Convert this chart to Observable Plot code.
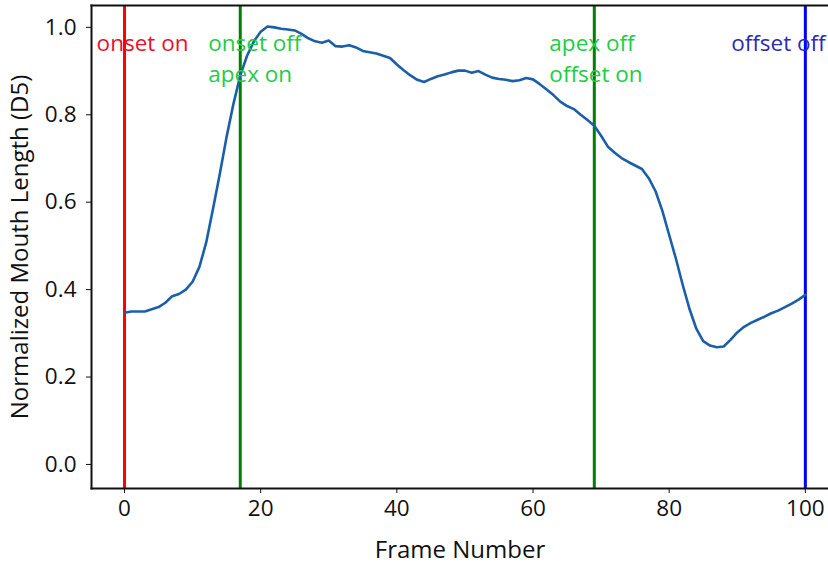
<!DOCTYPE html>
<html>
<head>
<meta charset="utf-8">
<script src="https://cdn.jsdelivr.net/npm/d3@7"></script>
<script src="https://cdn.jsdelivr.net/npm/@observablehq/plot@0.6"></script>
<style>
  html, body { margin: 0; padding: 0; background: #fff; }
  #chart { width: 828px; height: 566px; overflow: hidden; }
</style>
</head>
<body>
<div id="chart"></div>
<script>
// Normalized mouth length (D5) per frame, frames 0..100
const mouthLength = [
  0.347, 0.350, 0.350, 0.350, 0.355, 0.360, 0.370, 0.385, 0.390, 0.400,
  0.418, 0.452, 0.508, 0.585, 0.665, 0.750, 0.825, 0.890, 0.935, 0.968,
  0.990, 1.002, 1.000, 0.997, 0.995, 0.993, 0.985, 0.975, 0.968, 0.965,
  0.970, 0.957, 0.956, 0.959, 0.954, 0.946, 0.943, 0.940, 0.935, 0.930,
  0.915, 0.902, 0.890, 0.880, 0.875, 0.882, 0.888, 0.892, 0.897, 0.901,
  0.901, 0.896, 0.900, 0.892, 0.885, 0.882, 0.880, 0.877, 0.879, 0.884,
  0.881, 0.870, 0.858, 0.845, 0.830, 0.820, 0.813, 0.800, 0.788, 0.775,
  0.752, 0.727, 0.713, 0.701, 0.692, 0.684, 0.676, 0.655, 0.625, 0.580,
  0.525, 0.470, 0.410, 0.355, 0.310, 0.282, 0.272, 0.268, 0.270, 0.285,
  0.302, 0.315, 0.324, 0.331, 0.338, 0.346, 0.352, 0.360, 0.368, 0.377,
  0.388
];

// Phase boundaries
const eventFrames = [0, 17, 69, 100];
const eventColors = ["#ff0000", "#008000", "#008000", "#0000ff"];

// Phase annotations
const annotText  = ["onset on", "onset off\napex on", "apex off\noffset on", "offset off"];
const annotX     = [-4.1, 12.3, 62.4, 89.1];
const annotY     = [0.996, 0.996, 0.996, 0.996];
const annotColor = ["#e8102a", "#22cc44", "#22cc44", "#2b2bb5"];

const xTicks = [0, 20, 40, 60, 80, 100];
const yTicks = [0.0, 0.2, 0.4, 0.6, 0.8, 1.0];

const series = mouthLength.map((v, i) => ({frame: i, value: v}));
const events = eventFrames.map((f, i) => ({frame: f, color: eventColors[i]}));
const annots = annotText.map((t, i) => ({text: t, x: annotX[i], y: annotY[i], color: annotColor[i]}));

const chart = Plot.plot({
  width: 828,
  height: 566,
  marginLeft: 91,
  marginRight: 0,
  marginTop: 5,
  marginBottom: 78,
  style: {fontFamily: "'Open Sans', sans-serif", fontSize: "22.5px", color: "#111", background: "#fff"},
  x: {domain: [-4.85, 103.4]},
  y: {domain: [-0.055, 1.05]},
  marks: [
    Plot.ruleX(events, {x: "frame", stroke: "color", strokeWidth: 3}),
    Plot.line(series, {x: "frame", y: "value", stroke: "#1a5fa8", strokeWidth: 2.6, curve: "linear"}),
    Plot.text(annots, {x: "x", y: "y", text: "text", fill: "color", textAnchor: "start",
      lineAnchor: "top", lineHeight: 1.38, fontSize: 22.5}),
    Plot.axisX({ticks: xTicks, tickFormat: d => String(d), tickSize: 5, tickPadding: 7,
      label: null}),
    Plot.axisY({ticks: yTicks, tickFormat: d => d.toFixed(1), tickSize: 5, tickPadding: 10,
      label: null}),
    Plot.text(["Frame Number"], {frameAnchor: "bottom", dy: 62, textAnchor: "middle", lineAnchor: "middle", fontSize: 24, fill: "#111"}),
    Plot.text(["Normalized Mouth Length (D5)"], {frameAnchor: "left", dx: -71, rotate: -90, textAnchor: "middle", lineAnchor: "middle", fontSize: 24, fill: "#111"}),
    Plot.frame({anchor: "left", strokeWidth: 2}),
    Plot.frame({anchor: "top", strokeWidth: 2}),
    Plot.frame({anchor: "bottom", strokeWidth: 2})
  ]
});
document.getElementById("chart").appendChild(chart);
</script>
</body>
</html>
